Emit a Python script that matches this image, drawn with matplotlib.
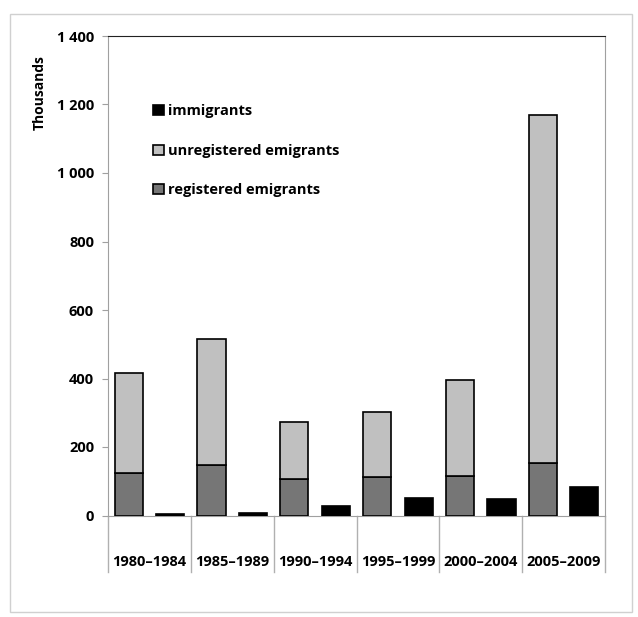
import matplotlib
matplotlib.use("Agg")
import matplotlib.pyplot as plt
from matplotlib.patches import Rectangle
import numpy as np

plt.rcParams['font.family'] = ['Open Sans', 'DejaVu Sans']

periods = ["1980\u20131984", "1985\u20131989", "1990\u20131994", "1995\u20131999", "2000\u20132004", "2005\u20132009"]
registered = [124, 148, 106, 111, 116, 152]
unregistered = [291, 366, 168, 192, 279, 1018]
immigrants = [5, 8, 28, 51, 48, 83]
yticks = [0, 200, 400, 600, 800, 1000, 1200, 1400]
yticklabels = ["0", "200", "400", "600", "800", "1 000", "1 200", "1 400"]

fig = plt.figure(figsize=(6.38, 6.17), dpi=100)
# outer light border
fig.patches.append(Rectangle((10/638, 1-612/617), 622/638, 598/617, transform=fig.transFigure,
                             fill=False, edgecolor="#d0d0d0", linewidth=1.0))

ax = fig.add_axes([108/638, 1-515.5/617, 497/638, 479.5/617])
x = np.arange(len(periods))
w = 0.34
off = 0.25
ax.bar(x - off, registered, w, color="#767676", edgecolor="black", linewidth=1.2, label="registered emigrants", zorder=3)
ax.bar(x - off, unregistered, w, bottom=registered, color="#c0c0c0", edgecolor="black", linewidth=1.2,
       label="unregistered emigrants", zorder=3)
ax.bar(x + off, immigrants, w, color="black", edgecolor="black", linewidth=1.2, label="immigrants", zorder=3)

ax.set_xlim(-0.5, len(periods) - 0.5)
ax.set_ylim(0, 1400)
ax.set_yticks(yticks)
ax.set_yticklabels(yticklabels, fontsize=10.5, fontweight="bold")
ax.tick_params(axis="y", length=4, color="#a0a0a0", pad=6)
ax.set_xticks([])

for s in ["left", "bottom"]:
    ax.spines[s].set_color("#a0a0a0")
ax.spines["top"].set_color("#222222")
ax.spines["right"].set_color("#a0a0a0")

# category separators and labels below the axis
trans = matplotlib.transforms.blended_transform_factory(ax.transData, ax.transAxes)
ybot = -(572 - 515.5) / 479.5
for b in np.arange(len(periods) + 1) - 0.5:
    ax.plot([b, b], [0, ybot], transform=trans, color="#b0b0b0", linewidth=1.0, clip_on=False)
for i, p in enumerate(periods):
    ax.text(i, -(562 - 515.5) / 479.5, p, transform=trans, ha="center", va="center",
            fontsize=10.5, fontweight="bold")

ax.text(-0.137, 0.883, "Thousands", transform=ax.transAxes, rotation=90, ha="center", va="center",
        fontsize=10, fontweight="bold")

handles, labels = ax.get_legend_handles_labels()
order = [2, 1, 0]
leg = ax.legend([handles[i] for i in order], [labels[i] for i in order], loc="upper left",
                bbox_to_anchor=(0.065, 0.885), frameon=False, handlelength=0.7, handleheight=0.7,
                handletextpad=0.3, labelspacing=1.75, prop={"size": 10.5, "weight": "bold"})

fig.savefig("out.png", dpi=100)
